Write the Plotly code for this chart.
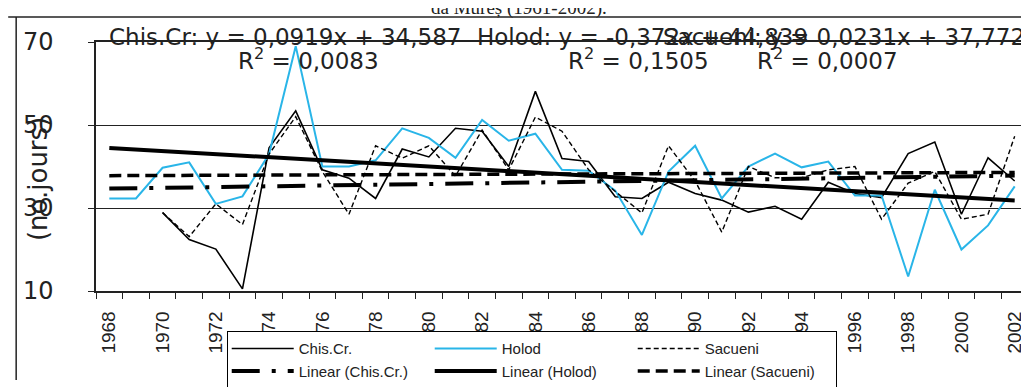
import plotly.graph_objects as go

# years on the category axis
YEARS = [1968, 1969, 1970, 1971, 1972, 1973, 1974, 1975, 1976, 1977,
         1978, 1979, 1980, 1981, 1982, 1983, 1984, 1985, 1986, 1987,
         1988, 1989, 1990, 1991, 1992, 1993, 1994, 1995, 1996, 1997,
         1998, 1999, 2000, 2001, 2002]

TICK_YEARS = [1968, 1970, 1972, 1974, 1976, 1978, 1980, 1982, 1984,
              1986, 1988, 1990, 1992, 1994, 1996, 1998, 2000, 2002]
TICK_TEXT = ["1968", "1970", "1972", "74", "76", "78", "80", "82", "84",
             "86", "88", "90", "92", "94", "1996", "1998", "2000", "2002"]

# number of days per year
CHIS = [None, None, 28.9, 22.4, 20.1, 10.5, 44.5, 53.4, 39.2, 37.2,
        32.3, 44.2, 42.3, 49.2, 48.5, 40.0, 58.1, 41.9, 41.2, 32.7,
        32.3, 36.2, 33.5, 31.9, 29.0, 30.4, 27.3, 36.2, 33.5, 32.5,
        43.1, 45.9, 28.5, 42.1, 36.5]
HOLOD = [32.3, 32.3, 39.7, 41.0, 31.0, 32.8, 43.0, 69.0, 40.0, 40.0,
         41.5, 49.2, 46.9, 42.1, 51.2, 46.2, 47.9, 39.2, 39.0, 34.2,
         23.5, 38.8, 45.0, 32.3, 40.0, 43.1, 39.8, 41.2, 33.0, 33.0,
         13.5, 34.4, 20.0, 25.8, 35.2]
SACUENI = [None, None, 28.9, 23.1, 31.0, 26.0, 43.0, 52.0, 38.8, 28.5,
           45.0, 42.0, 45.0, 37.7, 48.8, 39.2, 51.9, 48.5, 39.2, 34.0,
           28.8, 45.0, 36.5, 24.2, 40.0, 37.3, 37.3, 39.2, 40.0, 27.3,
           36.0, 38.8, 27.3, 28.5, 47.3]

# trendline coefficients as printed on the chart (x = 1 .. 35)
CHIS_TREND = (0.0919, 34.587)
HOLOD_TREND = (-0.372, 44.839)
SACUENI_TREND = (0.0231, 37.772)

EQ_CHIS = "Chis.Cr: y = 0,0919x + 34,587"
EQ_HOLOD = "Holod: y = -0,372x + 44,839"
EQ_SACUENI = "Sacueni: y = 0,0231x + 37,772"
R2_CHIS = "R<sup>2</sup> = 0,0083"
R2_HOLOD = "R<sup>2</sup> = 0,1505"
R2_SACUENI = "R<sup>2</sup> = 0,0007"

CYAN = "#29B5E8"

W, H = 1029, 387
L, R, T, B = 88, 7, 34, 93
PW = W - L - R
PH = H - T - B


def px_x(px):
    return (px - L) / PW


def px_y(py):
    return (T + PH - py) / PH


def trend_ends(coef):
    slope, icpt = coef
    return [slope * 1 + icpt, slope * len(YEARS) + icpt]


fig = go.Figure()

fig.add_trace(go.Scatter(x=YEARS, y=CHIS, mode="lines", name="Chis.Cr.",
                         line=dict(color="black", width=1.6), legendgroup="chis"))
fig.add_trace(go.Scatter(x=YEARS, y=HOLOD, mode="lines", name="Holod",
                         line=dict(color=CYAN, width=2), legendgroup="holod"))
fig.add_trace(go.Scatter(x=YEARS, y=SACUENI, mode="lines", name="Sacueni",
                         line=dict(color="black", width=1.4, dash="5px,3px"),
                         legendgroup="sacueni"))

ends_x = [YEARS[0], YEARS[-1]]
fig.add_trace(go.Scatter(x=ends_x, y=trend_ends(CHIS_TREND), mode="lines",
                         name="Linear (Chis.Cr.)", legendgroup="chis",
                         line=dict(color="black", width=4, dash="28px,12px,4px,12px")))
fig.add_trace(go.Scatter(x=ends_x, y=trend_ends(HOLOD_TREND), mode="lines",
                         name="Linear (Holod)", legendgroup="holod",
                         line=dict(color="black", width=4)))
fig.add_trace(go.Scatter(x=ends_x, y=trend_ends(SACUENI_TREND), mode="lines",
                         name="Linear (Sacueni)", legendgroup="sacueni",
                         line=dict(color="black", width=3.5, dash="12px,6px")))

eq_font = dict(family="DejaVu Sans", size=23, color="#222")
annotations = [
    dict(text=EQ_CHIS, x=px_x(99), y=px_y(29), xanchor="left"),
    dict(text=EQ_HOLOD, x=px_x(636), y=px_y(29), xanchor="center"),
    dict(text=EQ_SACUENI, x=px_x(1021), y=px_y(29), xanchor="right"),
    dict(text=R2_CHIS, x=px_x(301), y=px_y(52), xanchor="center"),
    dict(text=R2_HOLOD, x=px_x(632), y=px_y(52), xanchor="center"),
    dict(text=R2_SACUENI, x=px_x(821), y=px_y(52), xanchor="center"),
]
for a in annotations:
    fig.add_annotation(xref="paper", yref="paper", yanchor="middle",
                       showarrow=False, font=eq_font, **a)

# axis title drawn over the tick labels, as in the scan
fig.add_annotation(text="(no.jours)", xref="paper", yref="paper",
                   x=px_x(30), y=px_y(177), xanchor="center", yanchor="middle",
                   textangle=-90, showarrow=False,
                   font=dict(family="DejaVu Sans", size=26, color="#222"))
# clipped caption of the source page
fig.add_annotation(text="da Mureș (1961-2002).", xref="paper", yref="paper",
                   x=px_x(512), y=px_y(-1), xanchor="center", yanchor="middle",
                   showarrow=False,
                   font=dict(family="Liberation Serif", size=19, color="#222"))

# outer frame of the scanned chart
fig.add_shape(type="line", xref="paper", yref="paper", x0=px_x(0), x1=px_x(W),
              y0=px_y(8), y1=px_y(8), line=dict(color="#222", width=1.5))
fig.add_shape(type="line", xref="paper", yref="paper", x0=px_x(8), x1=px_x(8),
              y0=px_y(8), y1=px_y(H), line=dict(color="#222", width=1.5))

fig.update_layout(
    width=W, height=H,
    margin=dict(l=L, r=R, t=T, b=B, pad=0),
    paper_bgcolor="white", plot_bgcolor="white",
    font=dict(family="DejaVu Sans", color="#222"),
    showlegend=True,
    legend=dict(
        orientation="h", traceorder="grouped",
        x=px_x(219), y=px_y(336), xanchor="left", yanchor="top",
        bgcolor="white", bordercolor="black", borderwidth=1,
        font=dict(family="Liberation Sans", size=15, color="#222"),
        itemwidth=62, entrywidth=126, tracegroupgap=0,
    ),
    xaxis=dict(
        range=[1967.5, 2002.5], tickvals=TICK_YEARS, ticktext=TICK_TEXT,
        tickangle=-90, ticks="", showgrid=False, zeroline=False,
        showline=True, linecolor="#222", linewidth=1.5, mirror=True,
        tickfont=dict(family="Liberation Sans", size=19, color="#222"),
        ticklabelstandoff=11,
        minor=dict(tick0=1967.5, dtick=1, ticks="outside", ticklen=6,
                   tickcolor="#222", tickwidth=1, showgrid=False),
    ),
    yaxis=dict(
        range=[10, 70], tickvals=[10, 30, 50, 70], ticks="outside", ticklen=6,
        tickcolor="#222", showgrid=True, gridcolor="#222", gridwidth=1,
        zeroline=False, showline=True, linecolor="#222", linewidth=1.5,
        mirror=True, tickfont=dict(family="DejaVu Sans", size=24, color="#222"),
        ticklabelstandoff=30,
    ),
)

fig.write_html("out.html")
